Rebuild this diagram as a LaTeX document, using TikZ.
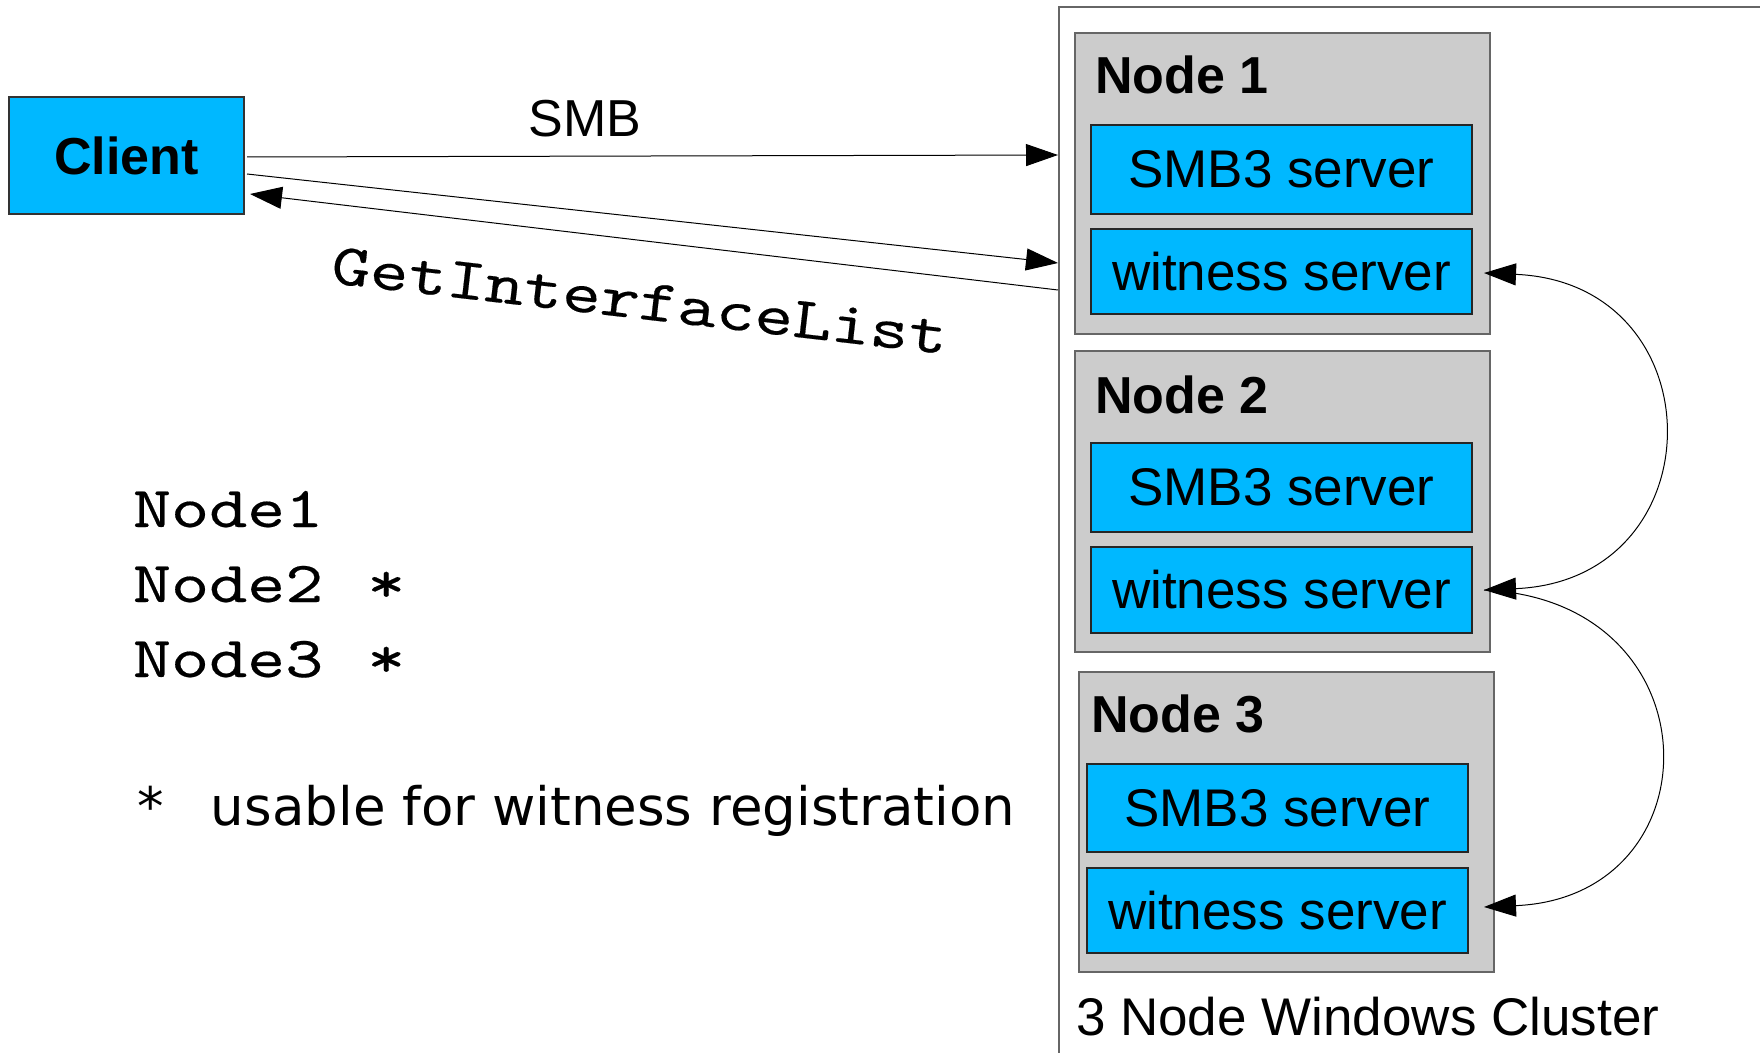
\documentclass[tikz,border=0pt]{standalone}
\usepackage{fontspec}
\setmainfont{Liberation Sans}
\newfontfamily\notefont{DejaVu Sans}
\newfontfamily\codefont[FakeStretch=1.25,FakeBold=0.3]{lmmono10-regular.otf}
\usetikzlibrary{arrows.meta,calc}
\definecolor{boxblue}{RGB}{0,184,255}
\definecolor{nodegray}{RGB}{204,204,204}
\definecolor{edgegray}{RGB}{102,102,102}

\begin{document}
\begin{tikzpicture}[x=0.5pt,y=-0.5pt,
  every node/.style={inner sep=0pt, outer sep=0pt},
  host/.style={draw=edgegray, fill=nodegray, line width=0.7pt,
    minimum width=207.5pt, minimum height=150.5pt},
  service/.style={draw=black!85, fill=boxblue, line width=0.6pt,
    minimum width=190.5pt, font=\fontsize{26.5pt}{30pt}\selectfont},
  hosttitle/.style={anchor=base west, font=\fontsize{26pt}{30pt}\selectfont\bfseries},
  msg/.style={line width=0.5pt, -{Triangle[length=16pt,width=11pt]}},
  code/.style={anchor=base west, font=\fontsize{29pt}{32pt}\selectfont\codefont},
]
\useasboundingbox (0,0) rectangle (1760,1053);
\fill[white] (0,0) rectangle (1760,1053);

% client
\node[draw=black!80, fill=boxblue, line width=0.6pt, minimum width=117.5pt,
  minimum height=58.5pt, font=\fontsize{26pt}{30pt}\selectfont\bfseries]
  (client) at (126.5,155.5) {Client};

% cluster frame (runs off the right and bottom edges)
\draw[edgegray, line width=0.7pt] (1059,1060) -- (1059,7) -- (1770,7);
\coordinate (smbin) at (1058,155);
\coordinate (ifin) at (1058,263);
\coordinate (ifout) at (1058,290);

% cluster nodes
\node[host] (n1) at (1282.5,183.5) {};
\node[service, minimum height=44.5pt] (s1) at (1281.5,169.5) {SMB3 server};
\node[service, minimum height=42.5pt] (w1) at (1281.5,271.5) {witness server};
\node[hosttitle] (t1) at (1095,94) {Node 1};

\node[host] (n2) at (1282.5,501.5) {};
\node[service, minimum height=44.5pt] (s2) at (1281.5,487.5) {SMB3 server};
\node[service, minimum height=43pt] (w2) at (1281.5,590) {witness server};
\node[hosttitle] (t2) at (1095,413) {Node 2};

\node[host, minimum height=150pt] (n3) at (1286.5,822) {};
\node[service, minimum height=44pt] (s3) at (1277.5,808) {SMB3 server};
\node[service, minimum height=42.5pt] (w3) at (1277.5,910.5) {witness server};
\node[hosttitle] (t3) at (1091,732) {Node 3};

\node[anchor=base west, font=\fontsize{26.5pt}{30pt}\selectfont] (cname) at (1076,1035) {3 Node Windows Cluster};

% client <-> cluster messages
\draw[msg] ($(client.east)+(3,1.5)$) -- (smbin);
\draw[msg] ($(client.east)+(3,18.5)$) -- (ifin);
\draw[msg] (ifout) -- ($(client.east)+(6,38.5)$);
\node[anchor=base, font=\fontsize{26pt}{30pt}\selectfont] (smblabel) at (585,137) {SMB};
\node[code, rotate=-6.6, font=\fontsize{29.5pt}{32pt}\selectfont\codefont] (iflabel) at (330,283) {GetInterfaceList};

% witness registration moves
\draw[msg, {Triangle[length=16pt,width=11pt]}-{Triangle[length=16pt,width=11pt]}]
  ($(w2.east)+(12,0)$) .. controls +(234,-10) and +(234,10) .. ($(w1.east)+(12,1.5)$);
\draw[msg] ($(w2.east)+(12,0)$) .. controls +(234,10) and +(234,-10) .. ($(w3.east)+(16,-3.5)$);

% interface list
\node[code] (l1) at (133,527) {Node1};
\node[code] (l2) at (133,602) {Node2\hspace{22pt}*};
\node[code] (l3) at (133,677) {Node3\hspace{22pt}*};
\node[anchor=base west, font=\fontsize{26.5pt}{30pt}\selectfont\notefont] (note) at (137,825)
  {*\hspace{23.75pt}usable for witness registration};
\end{tikzpicture}
\end{document}
